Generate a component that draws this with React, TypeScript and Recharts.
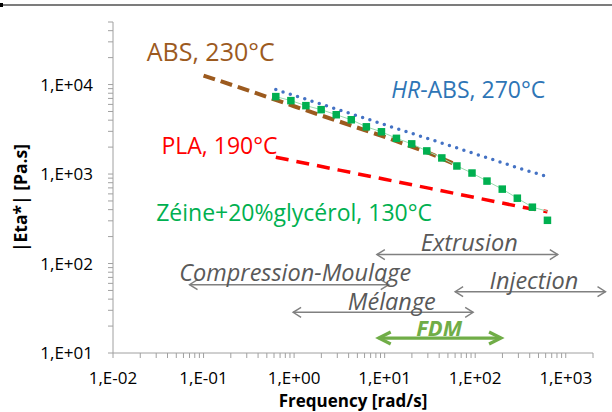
import React from "react";
import {
  ComposedChart,
  Line,
  Scatter,
  XAxis,
  YAxis,
  ReferenceLine,
  ReferenceDot,
} from "recharts";

const FONT = "'Open Sans', sans-serif";

// frequencies in rad/s, |Eta*| in Pa.s
const absFreq = [0.1, 0.316, 1, 3.16, 10, 31.6, 63];
const absEta = [12600, 8570, 5720, 3860, 2605, 1700, 1262];

const hrAbsFreq = [0.628, 1, 3.16, 10, 31.6, 100, 316, 628];
const hrAbsEta = [8790, 7560, 5200, 3560, 2450, 1680, 1150, 933];

const plaFreq = [0.628, 1, 3.16, 10, 31.6, 100, 316, 628];
const plaEta = [1540, 1400, 1106, 874, 691, 546, 431, 378];

const zeinFreq = [
  0.628, 0.922, 1.35, 1.99, 2.92, 4.28, 6.28, 9.22, 13.5, 19.9, 29.2, 42.8,
  62.8, 92.2, 135, 199, 292, 428, 628,
];
const zeinEta = [
  7330, 6610, 5810, 5240, 4600, 4040, 3370, 2965, 2505, 2173, 1813, 1513,
  1230, 1026, 834, 678, 537, 426, 304,
];
// thin guide line drawn through the squares
const zeinLineEta = [
  7330, 6610, 5810, 5240, 4600, 4040, 3370, 2965, 2505, 2173, 1813, 1513,
  1230, 1026, 834, 678, 537, 426, 384,
];

const seriesNames = ["ABS, 230°C", "HR-ABS, 270°C", "PLA, 190°C", "Zéine+20%glycérol, 130°C"];
const seriesColors = ["#9C5A1E", "#2E75B6", "#FF0000", "#00B050"];
const seriesFontSize = [25, 23, 23, 23];
const seriesLabelFreq = [0.12, 84, 0.15, 1];
const seriesLabelEta = [24000, 9000, 2100, 380];

// processing windows (frequency ranges)
const processNames = ["Extrusion", "Compression-Moulage", "Injection", "Mélange", "FDM"];
const processFrom = [8.2, 0.07, 60, 0.975, 8.6];
const processTo = [817, 11.1, 2750, 95, 193];
const processLevel = [126, 58, 48.4, 28.5, 14.7];
const processLabelFreq = [86, 1.03, 445, 12, 40];
const processLabelEta = [172, 81, 66, 38.5, 19.6];

const xTicks = [0.01, 0.1, 1, 10, 100, 1000];
const yTicks = [10, 100, 1000, 10000];

const minor = (decades: number[], max: number) =>
  decades
    .flatMap((d) => [1, 2, 3, 4, 5, 6, 7, 8, 9].map((m) => d * m))
    .filter((v) => v <= max * 1.0001);

const zip = (f: number[], v: number[]) => f.map((x, i) => ({ f: x, v: v[i] }));

const sci = (v: number) => {
  const l = Math.log10(v);
  const e = Math.round(l);
  if (Math.abs(l - e) > 1e-6) return "";
  return `1,E${e < 0 ? "-" : "+"}${String(Math.abs(e)).padStart(2, "0")}`;
};

const arrow = (color: string, width: number, head: number, half: number) => (p: any) => {
  const { x1, y1, x2, y2 } = p;
  const l = Math.min(x1, x2);
  const r = Math.max(x1, x2);
  return (
    <g>
      <line x1={l} y1={y1} x2={r} y2={y2} stroke={color} strokeWidth={width} />
      <polyline
        points={`${l + head},${y1 - half} ${l},${y1} ${l + head},${y1 + half}`}
        fill="none"
        stroke={color}
        strokeWidth={width}
      />
      <polyline
        points={`${r - head},${y2 - half} ${r},${y2} ${r - head},${y2 + half}`}
        fill="none"
        stroke={color}
        strokeWidth={width}
      />
    </g>
  );
};

const label = (content: React.ReactNode, color: string, size: number, italic = false, bold = false) =>
  (p: any) => (
    <text
      x={p.cx}
      y={p.cy}
      textAnchor="middle"
      dominantBaseline="central"
      fill={color}
      fontSize={size}
      fontFamily={FONT}
      fontStyle={italic ? "italic" : "normal"}
      fontWeight={bold ? 700 : 400}
    >
      {content}
    </text>
  );

export default function App() {
  const absData = zip(absFreq, absEta);
  const hrData = zip(hrAbsFreq, hrAbsEta);
  const plaData = zip(plaFreq, plaEta);
  const zeinData = zip(zeinFreq, zeinEta);
  const zeinLine = zip(zeinFreq, zeinLineEta);

  return (
    <div style={{ position: "absolute", left: 0, top: 0, width: 612, height: 412, background: "#fff" }}>
      <ComposedChart width={612} height={412} margin={{ top: 22, right: 19, bottom: 0, left: 0 }}>
        <XAxis
          type="number"
          dataKey="f"
          scale="log"
          domain={[0.01, 2000]}
          allowDataOverflow
          ticks={minor(xTicks, 2000)}
          interval={0}
          tickFormatter={sci}
          height={59}
          tickSize={5}
          tickMargin={14}
          stroke="#A0A0A0"
          tick={{ fill: "#000", fontSize: 17, fontFamily: FONT }}
        />
        <YAxis
          type="number"
          scale="log"
          domain={[10, 50000]}
          allowDataOverflow
          ticks={minor(yTicks, 50000)}
          interval={0}
          tickFormatter={sci}
          width={113}
          tickSize={5}
          tickMargin={15}
          stroke="#A0A0A0"
          tick={{ fill: "#000", fontSize: 17, fontFamily: FONT }}
        />

        <Line data={absData} dataKey="v" stroke="#9C5A1E" strokeWidth={4} strokeDasharray="12 6" dot={false} isAnimationActive={false} />
        <Line data={hrData} dataKey="v" stroke="#4472C4" strokeWidth={3.5} strokeDasharray="0 7.6" strokeLinecap="round" dot={false} isAnimationActive={false} />
        <Line data={plaData} dataKey="v" stroke="#FF0000" strokeWidth={3.5} strokeDasharray="13 8" dot={false} isAnimationActive={false} />
        <Line data={zeinLine} dataKey="v" stroke="#9ADBAE" strokeWidth={1} dot={false} isAnimationActive={false} />
        <Scatter
          data={zeinData}
          dataKey="v"
          isAnimationActive={false}
          shape={(p: any) => <rect x={p.cx - 3.75} y={p.cy - 3.75} width={7.5} height={7.5} fill="#00B050" />}
        />

        {processNames.map((n, i) => (
          <ReferenceLine
            key={n}
            ifOverflow="visible"
            segment={[
              { x: processFrom[i], y: processLevel[i] },
              { x: processTo[i], y: processLevel[i] },
            ]}
            shape={n === "FDM" ? arrow("#70AD47", 3.2, 12, 6) : arrow("#808080", 1.4, 8, 5)}
          />
        ))}
        {processNames.map((n, i) => (
          <ReferenceDot
            key={`t-${n}`}
            x={processLabelFreq[i]}
            y={processLabelEta[i]}
            ifOverflow="visible"
            shape={n === "FDM" ? label(n, "#70AD47", 22, true, true) : label(n, "#595959", 23.5, true)}
          />
        ))}
        {seriesNames.map((n, i) => (
          <ReferenceDot
            key={`s-${n}`}
            x={seriesLabelFreq[i]}
            y={seriesLabelEta[i]}
            ifOverflow="visible"
            shape={label(
              n.startsWith("HR-") ? (
                <>
                  <tspan fontStyle="italic">HR</tspan>
                  {n.slice(2)}
                </>
              ) : (
                n
              ),
              seriesColors[i],
              seriesFontSize[i]
            )}
          />
        ))}
      </ComposedChart>

      <svg width={612} height={412} style={{ position: "absolute", left: 0, top: 0, pointerEvents: "none" }}>
        <line x1={0} y1={5} x2={612} y2={5} stroke="#505050" strokeWidth={1.5} />
        <rect x={0} y={3} width={3} height={4} fill="#000" />
        <text x={353} y={400} textAnchor="middle" dominantBaseline="central" fontSize={17} fontWeight={700} fontFamily={FONT} fill="#000">
          Frequency [rad/s]
        </text>
        <text
          x={20}
          y={198}
          transform="rotate(-90 20 198)"
          textAnchor="middle"
          dominantBaseline="central"
          fontSize={17.5}
          fontWeight={700}
          fontFamily={FONT}
          fill="#000"
        >
          |Eta*| [Pa.s]
        </text>
      </svg>
    </div>
  );
}
